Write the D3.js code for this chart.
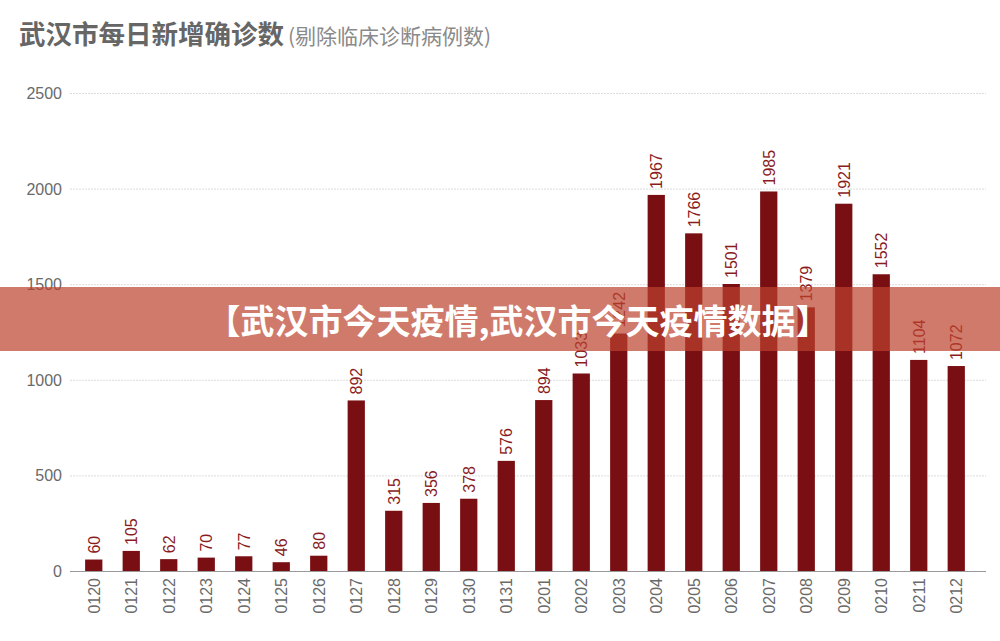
<!DOCTYPE html>
<html lang="zh">
<head>
    <meta charset="UTF-8">
    <title>武汉市每日新增确诊数</title>
    <script type="text/javascript" src="https://cdn.jsdelivr.net/npm/d3@7"></script>
    <style type="text/css">
        body { margin: 0; background: #fff; }
        text { font-family: "Noto Sans CJK SC", "Noto Sans", sans-serif; }
    </style>
</head>
<body>
    <script type="text/javascript">

        // data
        var days = ['0120', '0121', '0122', '0123', '0124', '0125', '0126', '0127', '0128', '0129',
            '0130', '0131', '0201', '0202', '0203', '0204', '0205', '0206', '0207', '0208',
            '0209', '0210', '0211', '0212'];
        var cases = [60, 105, 62, 70, 77, 46, 80, 892, 315, 356, 378, 576, 894, 1033, 1242,
            1967, 1766, 1501, 1985, 1379, 1921, 1552, 1104, 1072];
        var yTicks = [0, 500, 1000, 1500, 2000, 2500];

        var w = 1000;
        var h = 641;

        var svg = d3.select("body")
            .append("svg")
            .attr("width", w)
            .attr("height", h);

        var x = d3.scaleBand()
            .domain(days)
            .range([75, 975])
            .paddingInner(0.54)
            .paddingOuter(0.27);

        var y = d3.scaleLinear()
            .domain([0, 2500])
            .range([571, 93]);

        // title
        var title = svg.append("text")
            .attr("x", 19)
            .attr("y", 44);
        title.append("tspan")
            .text("武汉市每日新增确诊数")
            .attr("font-size", "26.5px")
            .attr("font-weight", "bold")
            .attr("fill", "#666666");
        title.append("tspan")
            .text("(剔除临床诊断病例数)")
            .attr("font-size", "21px")
            .attr("fill", "#8a8a8a")
            .attr("dx", 4);

        // grid
        svg.selectAll("line.grid")
            .data(yTicks.filter(function(d) { return d > 0; }))
            .enter()
            .append("line")
            .attr("class", "grid")
            .attr("x1", 70)
            .attr("x2", 986)
            .attr("y1", function(d) { return y(d) + 0.5; })
            .attr("y2", function(d) { return y(d) + 0.5; })
            .attr("stroke", "#dcdcdc")
            .attr("stroke-dasharray", "2,1");

        // y labels
        svg.selectAll("text.ylab")
            .data(yTicks)
            .enter()
            .append("text")
            .attr("class", "ylab")
            .text(function(d) { return d; })
            .attr("x", 62)
            .attr("y", function(d) { return y(d) + 6; })
            .attr("text-anchor", "end")
            .attr("font-size", "16px")
            .attr("fill", "#6a6a6a")
            .style("font-family", "'Liberation Sans', sans-serif");

        // bars
        svg.selectAll("rect.bar")
            .data(cases)
            .enter()
            .append("rect")
            .attr("class", "bar")
            .attr("x", function(d, i) { return x(days[i]); })
            .attr("y", function(d) { return y(d); })
            .attr("width", x.bandwidth())
            .attr("height", function(d) { return y(0) - y(d); })
            .attr("fill", "#7a0f13");

        // baseline
        svg.append("line")
            .attr("x1", 70)
            .attr("x2", 986)
            .attr("y1", y(0) + 0.5)
            .attr("y2", y(0) + 0.5)
            .attr("stroke", "#9a9a9a")
            .attr("stroke-width", 1.2);

        // value labels
        svg.selectAll("text.val")
            .data(cases)
            .enter()
            .append("text")
            .attr("class", "val")
            .text(function(d) { return d; })
            .attr("transform", function(d, i) {
                return "translate(" + (x(days[i]) + x.bandwidth() / 2 + 6) + "," + (y(d) - 6) + ") rotate(-90)";
            })
            .attr("font-size", "16px")
            .attr("fill", "#8a1c1e")
            .style("font-family", "'Liberation Sans', sans-serif");

        // day labels
        svg.selectAll("text.day")
            .data(days)
            .enter()
            .append("text")
            .attr("class", "day")
            .text(function(d) { return d; })
            .attr("transform", function(d) {
                return "translate(" + (x(d) + x.bandwidth() / 2 + 6) + "," + 578 + ") rotate(-90)";
            })
            .attr("text-anchor", "end")
            .attr("font-size", "16px")
            .attr("fill", "#6a6a6a")
            .style("font-family", "'Liberation Sans', sans-serif");

        // banner
        svg.append("rect")
            .attr("x", 0)
            .attr("y", 287)
            .attr("width", w)
            .attr("height", 64)
            .attr("fill", "rgb(188,65,45)")
            .attr("fill-opacity", 0.7);

        svg.append("text")
            .text("【武汉市今天疫情,武汉市今天疫情数据】")
            .attr("x", 518)
            .attr("y", 334)
            .attr("text-anchor", "middle")
            .attr("font-size", "34px")
            .attr("font-weight", "bold")
            .attr("fill", "#ffffff");

    </script>
</body>
</html>
